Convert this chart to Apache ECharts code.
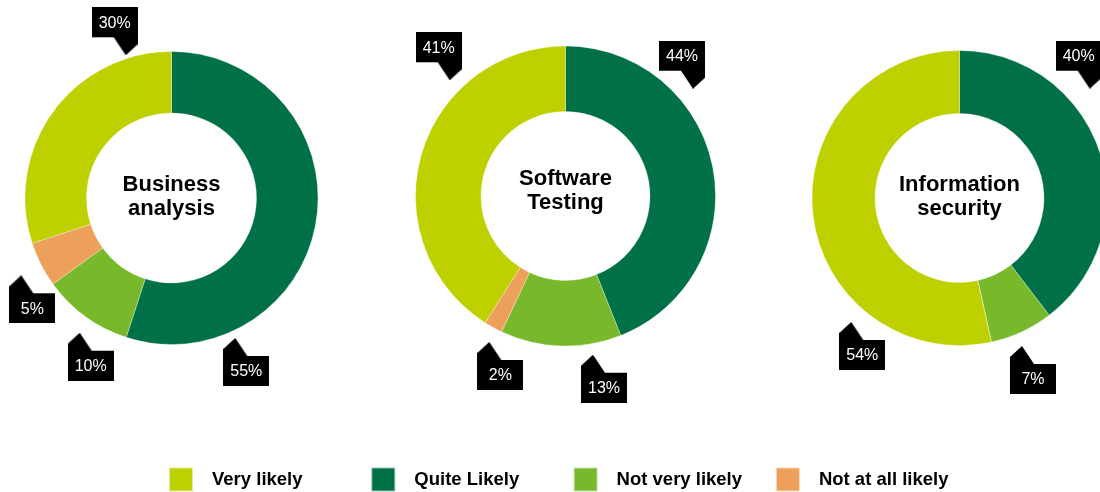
<!DOCTYPE html>
<html>
<head>
<meta charset="utf-8">
<script src="https://cdn.jsdelivr.net/npm/echarts@6/dist/echarts.min.js"></script>
<style>
html, body { margin: 0; padding: 0; background: #fff; }
#chart { width: 1100px; height: 492px; }
</style>
</head>
<body>
<div id="chart"></div>
<script>
// data, in clockwise order from 12 o'clock
const categories = ['Quite Likely', 'Not very likely', 'Not at all likely', 'Very likely']
const legendOrder = ['Very likely', 'Quite Likely', 'Not very likely', 'Not at all likely']
const topics = ['Business\nanalysis', 'Software\nTesting', 'Information\nsecurity']
const businessValues = [55, 10, 5, 30]
const testingValues = [44, 13, 2, 41]
const securityValues = [40, 7, 0, 54]
const seriesValues = [businessValues, testingValues, securityValues]

const colors = ['#007046', '#78b82b', '#eca05a', '#bed000']
const font = '"Liberation Sans", Arial, sans-serif'

// ring placement
const rings = [
  { center: [171.5, 198], radius: [85, 146.5], titleY: 196.7 },
  { center: [565.5, 196], radius: [84.5, 150], titleY: 191 },
  { center: [959.5, 198], radius: [84.5, 147.5], titleY: 197 }
]
// where the tip of each callout sits, relative to the ring centre
const calloutTips = [
  [[63.8, 140], [-91.8, 134.7], [-150.2, 77.3], [-45.8, -142.7]],
  [[127.5, -107.3], [27.5, 158.7], [-76.2, 146], [-115.8, -115.7]],
  [[130.2, -109.3], [62.5, 148], [0, 0], [-108.2, 124]]
]

// black box with a pointer, drawn once on a canvas and used as label background
function calloutImage(pointUp) {
  const c = document.createElement('canvas')
  c.width = 46
  c.height = 48
  const ctx = c.getContext('2d')
  ctx.fillStyle = '#000'
  ctx.beginPath()
  if (pointUp) {
    ctx.moveTo(0, 11); ctx.lineTo(12, 0); ctx.lineTo(24, 18)
    ctx.lineTo(46, 18); ctx.lineTo(46, 48); ctx.lineTo(0, 48)
  } else {
    ctx.moveTo(0, 0); ctx.lineTo(46, 0); ctx.lineTo(46, 37)
    ctx.lineTo(34, 48); ctx.lineTo(22, 30); ctx.lineTo(0, 30)
  }
  ctx.closePath()
  ctx.fill()
  return c
}
const imgDown = calloutImage(false)
const imgUp = calloutImage(true)

const series = seriesValues.map((values, s) => ({
  type: 'pie',
  center: rings[s].center,
  radius: rings[s].radius,
  startAngle: 90,
  clockwise: true,
  avoidLabelOverlap: false,
  silent: true,
  itemStyle: { borderColor: 'rgba(255,255,255,0.6)', borderWidth: 0.5 },
  label: {
    show: true,
    position: 'outside',
    formatter: '{c}%',
    color: '#fff',
    fontSize: 16,
    fontFamily: font,
    width: 46,
    height: 28,
    lineHeight: 28,
    align: 'center'
  },
  labelLine: { show: false },
  labelLayout: function (p) {
    const tip = calloutTips[p.seriesIndex][p.dataIndex]
    const cx = rings[p.seriesIndex].center[0] + tip[0]
    const cy = rings[p.seriesIndex].center[1] + tip[1]
    if (tip[1] < 0) {
      return { x: cx - 34 + 23, y: cy - 48, align: 'center', verticalAlign: 'top' }
    }
    return { x: cx - 12 + 23, y: cy, align: 'center', verticalAlign: 'top' }
  },
  data: values.map((v, i) => {
    const up = calloutTips[s][i][1] > 0
    return {
      name: categories[i],
      value: v,
      itemStyle: { color: colors[i] },
      label: v === 0 ? { show: false } : {
        backgroundColor: { image: up ? imgUp : imgDown },
        padding: up ? [20, 0, 0, 0] : [2, 0, 18, 0]
      }
    }
  })
}))

// one legend per entry so they sit at an even pitch
const legends = legendOrder.map((name, i) => ({
  data: [name],
  left: 168 + i * 202.3,
  top: 466.5,
  padding: 0,
  icon: 'rect',
  itemWidth: 24,
  itemHeight: 24,
  selectedMode: false,
  textStyle: { fontSize: 18.5, fontWeight: 'bold', color: '#000', fontFamily: font, padding: [0, 0, 0, 14] }
}))

const chart = echarts.init(document.getElementById('chart'))
chart.setOption({
  animation: false,
  color: colors,
  title: rings.map((r, i) => ({
    text: topics[i],
    left: r.center[0],
    top: r.titleY,
    padding: 0,
    textAlign: 'center',
    textVerticalAlign: 'middle',
    textStyle: { fontSize: 22, fontWeight: 'bold', lineHeight: 24, color: '#000', fontFamily: font }
  })),
  legend: legends,
  series: series
})
</script>
</body>
</html>
